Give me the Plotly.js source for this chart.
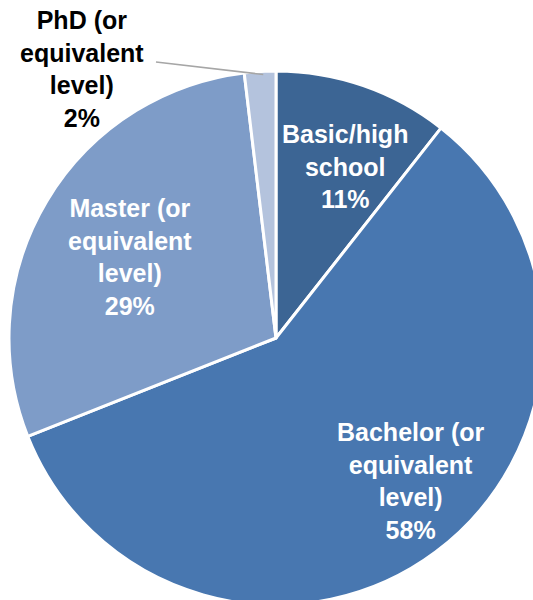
<!DOCTYPE html>
<html>
<head>
<meta charset="utf-8">
<script src="https://cdn.plot.ly/plotly-3.0.1.min.js"></script>
<style>
html,body{margin:0;padding:0;overflow:hidden;background:#fff;}
#chart{width:543px;height:605px;}
</style>
</head>
<body>
<div id="chart"></div>
<script>
// ---- data ----
const categories = ["Basic/high<br>school", "Bachelor (or<br>equivalent<br>level)", "Master (or<br>equivalent<br>level)", "PhD (or<br>equivalent<br>level)"];
const shares = [10.6, 58.4, 29.1, 1.9];
const colors = ["#3C6594", "#4877B0", "#7E9CC8", "#B4C3DD"];

// ---- geometry / style ----
const W = 543, H = 605, ML = 9, MT = 71;
const S = 534;               // pie domain size in px
const CX = ML + S / 2, CY = MT + S / 2, R = S / 2;
const labelR = [0.694, 0.737, 0.625];     // radial position (fraction of radius) of inside labels
const labelShift = [2.8, -6.6, -1.8];     // angular nudge in degrees
const fontFam = "'Liberation Sans', Arial, sans-serif";

const total = shares.reduce((a, b) => a + b, 0);
const toPaper = (px, py) => [(px - ML) / S, 1 - (py - MT) / S];

const annotations = [];
let cum = 0;
shares.forEach((v, i) => {
  const mid = (cum + v / 2) / total * 360;
  cum += v;
  const pct = Math.round(v / total * 100) + "%";
  if (i < 3) {
    const a = (mid + labelShift[i]) * Math.PI / 180;
    const r = R * labelR[i];
    const [x, y] = toPaper(CX + r * Math.sin(a), CY - r * Math.cos(a));
    annotations.push({
      x, y, xref: "paper", yref: "paper", showarrow: false,
      text: "<b>" + categories[i] + "<br>" + pct + "</b>",
      font: {family: fontFam, size: 25, color: "#FFFFFF"},
      align: "center", xanchor: "center", yanchor: "middle"
    });
  } else {
    // outside label with leader line
    const [x, y] = toPaper(82, 69);
    annotations.push({
      x, y, xref: "paper", yref: "paper", showarrow: false,
      text: "<b>" + categories[i] + "<br>" + pct + "</b>",
      font: {family: fontFam, size: 25, color: "#000000"},
      align: "center", xanchor: "center", yanchor: "middle"
    });
  }
});

const a0 = (total - shares[3] / 2) / total * 360 * Math.PI / 180;
const [lx0, ly0] = toPaper(156, 62);
const [lx1, ly1] = toPaper(CX + (R - 3) * Math.sin(a0) + 3, CY - (R - 3) * Math.cos(a0));

const trace = {
  type: "pie",
  labels: categories,
  values: shares,
  sort: false,
  direction: "clockwise",
  rotation: 0,
  marker: {colors: colors, line: {color: "#FFFFFF", width: 3}},
  textinfo: "none",
  hoverinfo: "none",
  domain: {x: [0, 1], y: [0, 1]}
};

const layout = {
  width: W, height: H,
  margin: {l: ML, r: W - ML - S, t: MT, b: H - MT - S, pad: 0},
  showlegend: false,
  paper_bgcolor: "#FFFFFF",
  plot_bgcolor: "#FFFFFF",
  annotations: annotations,
  shapes: [{type: "line", xref: "paper", yref: "paper", x0: lx0, y0: ly0, x1: lx1, y1: ly1,
            line: {color: "#A6A6A6", width: 1.5}}]
};

Plotly.newPlot("chart", [trace], layout, {staticPlot: true, displayModeBar: false});
</script>
</body>
</html>
